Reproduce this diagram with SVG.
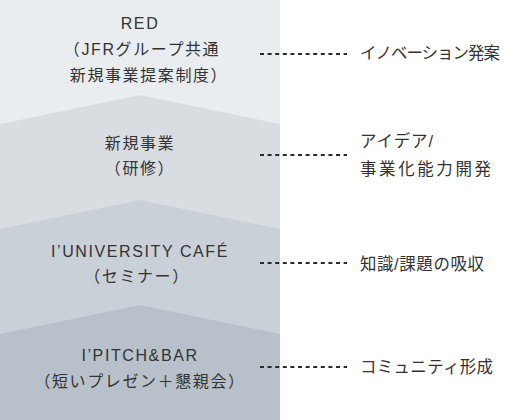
<svg xmlns="http://www.w3.org/2000/svg" width="510" height="420" viewBox="0 0 510 420">
<style>
.lt{font-family:"Liberation Sans","Noto Sans CJK JP",sans-serif;font-size:16px;fill:#333;text-anchor:middle;letter-spacing:1.6px}
.rt{font-family:"Liberation Sans","Noto Sans CJK JP",sans-serif;font-size:16.5px;fill:#333}
.dash{stroke:#2a2a2a;stroke-width:2;stroke-dasharray:4 3.6;fill:none}
</style>
<rect width="510" height="420" fill="#fff"/>
<g id="layer-red">
<rect x="0" y="0" width="280" height="420" fill="#eaedf0"/>
<text class="lt" x="140" y="29">RED</text>
<text class="lt" x="142" y="55">（JFRグループ共通</text>
<text class="lt" x="149" y="81">新規事業提案制度）</text>
</g>
<g id="layer-shinki">
<polygon points="0,124 140,95 280,124 280,420 0,420" fill="#d9dde2"/>
<text class="lt" x="140" y="149">新規事業</text>
<text class="lt" x="140" y="174">（研修）</text>
</g>
<g id="layer-university">
<polygon points="0,229 140,200 280,229 280,420 0,420" fill="#c9d0d7"/>
<text class="lt" x="140" y="257">I’UNIVERSITY CAFÉ</text>
<text class="lt" x="137" y="282">（セミナー）</text>
</g>
<g id="layer-pitch">
<polygon points="0,334 140,305 280,334 280,420 0,420" fill="#b8c1ca"/>
<text class="lt" x="140" y="361">I’PITCH&amp;BAR</text>
<text class="lt" x="140" y="387">（短いプレゼン＋懇親会）</text>
</g>
<g id="connectors">
<line class="dash" x1="260" y1="54" x2="347" y2="54"/>
<line class="dash" x1="260" y1="155" x2="347" y2="155"/>
<line class="dash" x1="260" y1="263" x2="347" y2="263"/>
<line class="dash" x1="260" y1="367" x2="347" y2="367"/>
</g>
<g id="labels">
<text class="rt" x="360" y="59" textLength="140" lengthAdjust="spacing">イノベーション発案</text>
<text class="rt" x="360" y="147" textLength="73" lengthAdjust="spacing">アイデア/</text>
<text class="rt" x="360" y="175" textLength="131" lengthAdjust="spacing">事業化能力開発</text>
<text class="rt" x="360" y="270" textLength="124" lengthAdjust="spacing">知識/課題の吸収</text>
<text class="rt" x="360" y="373" textLength="133" lengthAdjust="spacing">コミュニティ形成</text>
</g>
</svg>
